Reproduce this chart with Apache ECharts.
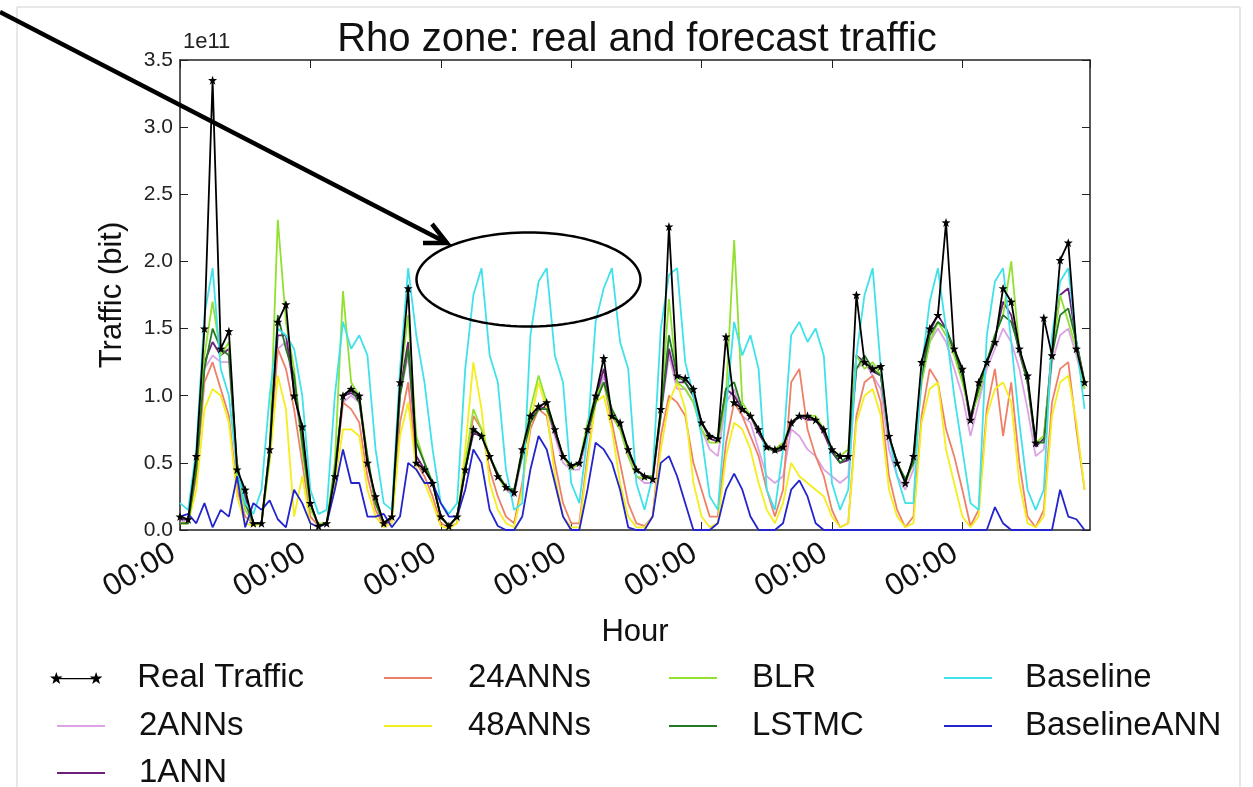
<!DOCTYPE html>
<html>
<head>
<meta charset="utf-8">
<script src="https://cdn.jsdelivr.net/npm/echarts@6/dist/echarts.min.js"></script>
<style>
html,body{margin:0;padding:0;background:#fff;}
#chart{width:1253px;height:787px;}
</style>
</head>
<body>
<div id="chart"></div>
<script>
// hours since start (3-hour sampling)
const hours = [];
for (let h = 0; h <= 333; h += 3) hours.push(h);

const xTickLabel = '00:00';
const yTickLabels = ['0.0','0.5','1.0','1.5','2.0','2.5','3.0','3.5'];

// values in units of 1e11 bit
const realTraffic = [
 0.1,0.08,0.55,1.5,3.35,1.35,1.48,0.45,
 0.3,0.05,0.05,0.6,1.55,1.68,1.0,0.77,
 0.2,0.03,0.05,0.4,1.0,1.05,1.0,0.5,
 0.25,0.05,0.1,1.1,1.8,0.5,0.45,0.35,
 0.1,0.03,0.1,0.45,0.75,0.7,0.55,0.4,
 0.32,0.28,0.6,0.85,0.92,0.95,0.75,0.55,
 0.48,0.5,0.75,1.0,1.28,0.85,0.8,0.6,
 0.45,0.4,0.38,0.9,2.26,1.15,1.13,1.05,
 0.8,0.7,0.68,1.44,0.95,0.9,0.85,0.75,
 0.62,0.6,0.62,0.8,0.85,0.85,0.82,0.75,
 0.6,0.55,0.55,1.75,1.25,1.2,1.22,0.7,
 0.5,0.35,0.55,1.25,1.5,1.6,2.29,1.35,
 1.2,0.82,1.1,1.25,1.4,1.8,1.7,1.35,
 1.15,0.65,1.58,1.3,2.01,2.14,1.35,1.1
];
const twoANNs = [
 0.05,0.08,0.45,1.2,1.3,1.25,1.25,0.45,
 0.2,0.05,0.05,0.55,1.35,1.4,1.05,0.65,
 0.2,0.03,0.05,0.4,0.95,1.0,0.95,0.5,
 0.2,0.05,0.1,1.0,1.3,0.55,0.45,0.35,
 0.1,0.03,0.1,0.45,0.75,0.7,0.55,0.4,
 0.3,0.25,0.55,0.8,0.9,0.9,0.7,0.5,
 0.45,0.45,0.7,0.95,1.15,0.85,0.75,0.55,
 0.4,0.35,0.35,0.85,1.3,1.05,1.05,0.95,
 0.75,0.6,0.55,0.95,1.05,0.85,0.8,0.6,
 0.4,0.35,0.4,0.75,0.7,0.6,0.55,0.45,
 0.4,0.35,0.4,1.2,1.25,1.15,1.05,0.6,
 0.4,0.3,0.45,1.1,1.4,1.5,1.4,1.2,
 1.0,0.7,0.95,1.2,1.35,1.5,1.4,1.2,
 0.9,0.55,0.6,1.25,1.45,1.5,1.3,1.05
];
const oneANN = [
 0.08,0.08,0.5,1.25,1.4,1.3,1.35,0.45,
 0.25,0.05,0.05,0.6,1.45,1.45,1.05,0.7,
 0.2,0.03,0.05,0.42,1.0,1.02,0.98,0.5,
 0.22,0.05,0.1,1.05,1.4,0.55,0.45,0.35,
 0.1,0.03,0.1,0.45,0.72,0.7,0.55,0.4,
 0.32,0.28,0.58,0.82,0.9,0.92,0.72,0.55,
 0.47,0.5,0.72,0.98,1.2,0.85,0.78,0.58,
 0.45,0.4,0.38,0.88,1.35,1.1,1.1,1.0,
 0.8,0.68,0.66,1.05,1.0,0.9,0.85,0.72,
 0.62,0.58,0.6,0.78,0.85,0.82,0.82,0.72,
 0.58,0.5,0.52,1.3,1.25,1.18,1.15,0.7,
 0.5,0.36,0.52,1.2,1.48,1.6,1.5,1.32,
 1.15,0.8,1.05,1.25,1.42,1.7,1.6,1.32,
 1.1,0.62,0.68,1.35,1.75,1.8,1.4,1.1
];
const ann24 = [
 0.05,0.05,0.4,1.1,1.25,1.05,0.85,0.3,
 0.1,0.05,0.05,0.6,1.35,1.2,0.9,0.5,
 0.1,0.03,0.05,0.4,0.95,0.9,0.8,0.4,
 0.15,0.03,0.08,0.8,1.1,0.5,0.4,0.25,
 0.05,0.02,0.05,0.45,0.85,0.75,0.45,0.25,
 0.1,0.05,0.35,0.75,0.9,0.85,0.5,0.2,
 0.05,0.05,0.55,0.95,1.1,0.8,0.5,0.2,
 0.05,0.03,0.1,0.7,1.0,0.95,0.85,0.5,
 0.3,0.1,0.1,0.65,0.95,0.85,0.7,0.55,
 0.3,0.1,0.3,1.1,1.2,0.75,0.55,0.4,
 0.15,0.02,0.05,0.85,1.1,1.15,0.95,0.4,
 0.15,0.02,0.1,0.85,1.2,1.1,0.75,0.55,
 0.3,0.03,0.15,0.9,1.2,0.7,1.1,0.5,
 0.1,0.02,0.15,0.95,1.2,1.25,0.75,0.3
];
const ann48 = [
 0.05,0.05,0.3,0.9,1.05,1.0,0.8,0.25,
 0.05,0.03,0.05,0.5,1.15,0.9,0.1,0.4,
 0.05,0.02,0.05,0.35,0.75,0.75,0.7,0.3,
 0.1,0.02,0.05,0.7,0.95,0.45,0.35,0.2,
 0.03,0.01,0.05,0.6,1.25,0.9,0.35,0.15,
 0.05,0.02,0.3,0.8,1.1,0.9,0.4,0.1,
 0.02,0.02,0.5,0.95,1.0,0.75,0.35,0.1,
 0.02,0.02,0.1,0.6,0.95,1.1,0.9,0.35,
 0.1,0.02,0.05,0.55,0.8,0.75,0.6,0.35,
 0.15,0.05,0.2,0.5,0.4,0.35,0.3,0.25,
 0.1,0.02,0.05,0.8,1.0,1.05,0.85,0.3,
 0.1,0.02,0.05,0.8,1.05,1.1,0.6,0.35,
 0.1,0.02,0.1,0.85,1.05,1.1,0.95,0.35,
 0.05,0.02,0.1,0.85,1.1,1.15,0.8,0.3
];
const blr = [
 0.05,0.05,0.5,1.3,1.7,1.3,1.4,0.4,
 0.15,0.05,0.05,0.6,2.31,1.55,1.2,0.6,
 0.15,0.05,0.05,0.5,1.78,1.1,1.0,0.55,
 0.2,0.05,0.1,1.1,1.6,0.7,0.5,0.35,
 0.1,0.02,0.1,0.5,0.9,0.75,0.55,0.4,
 0.3,0.3,0.6,0.9,1.15,0.95,0.75,0.55,
 0.45,0.5,0.8,1.0,1.1,0.85,0.75,0.55,
 0.4,0.38,0.4,0.9,1.72,1.1,1.05,0.95,
 0.75,0.65,0.65,1.0,2.16,0.95,0.85,0.75,
 0.62,0.6,0.65,0.8,0.85,0.85,0.85,0.75,
 0.6,0.55,0.6,1.3,1.2,1.25,1.15,0.7,
 0.5,0.35,0.5,1.1,1.4,1.55,1.45,1.3,
 1.1,0.85,1.0,1.25,1.45,1.6,2.0,1.35,
 1.1,0.65,0.7,1.3,1.75,1.55,1.35,1.05
];
const lstmc = [
 0.05,0.05,0.45,1.2,1.5,1.35,1.3,0.5,
 0.2,0.05,0.05,0.55,1.6,1.35,1.15,0.65,
 0.2,0.03,0.05,0.45,1.0,1.05,0.95,0.55,
 0.2,0.05,0.1,1.0,1.35,0.65,0.5,0.35,
 0.1,0.03,0.1,0.45,0.75,0.7,0.55,0.42,
 0.32,0.3,0.55,0.8,0.9,0.9,0.75,0.55,
 0.48,0.5,0.72,0.95,1.1,0.9,0.78,0.6,
 0.45,0.4,0.4,0.85,1.45,1.15,1.1,1.0,
 0.8,0.7,0.68,1.05,1.1,0.9,0.85,0.75,
 0.62,0.58,0.62,0.8,0.85,0.85,0.82,0.75,
 0.6,0.5,0.55,1.2,1.3,1.2,1.15,0.7,
 0.5,0.38,0.5,1.15,1.45,1.55,1.5,1.35,
 1.15,0.85,1.05,1.25,1.45,1.6,1.55,1.35,
 1.1,0.65,0.65,1.3,1.6,1.65,1.4,1.1
];
const baseline = [
 0.2,0.15,0.6,1.6,1.95,1.2,1.0,0.45,
 0.2,0.12,0.3,1.0,1.5,1.45,1.35,1.0,
 0.3,0.12,0.15,1.0,1.55,1.35,1.45,1.3,
 0.6,0.2,0.15,1.2,1.95,1.45,1.1,0.6,
 0.2,0.12,0.2,1.2,1.75,1.95,1.3,1.1,
 0.45,0.15,0.2,1.45,1.85,1.95,1.3,1.1,
 0.35,0.2,0.7,1.55,1.8,1.95,1.4,1.2,
 0.35,0.15,0.4,1.5,1.9,1.95,1.25,1.0,
 0.7,0.25,0.15,0.9,1.55,1.3,1.45,1.2,
 0.3,0.15,0.6,1.45,1.55,1.4,1.5,1.3,
 0.35,0.15,0.3,1.3,1.75,1.95,1.2,0.7,
 0.4,0.2,0.2,1.2,1.7,1.95,1.5,1.0,
 0.6,0.2,0.15,1.45,1.85,1.95,1.4,0.8,
 0.3,0.15,0.3,1.45,1.85,1.95,1.4,0.9
];
const baselineANN = [
 0.1,0.12,0.05,0.2,0.02,0.15,0.1,0.4,
 0.02,0.2,0.15,0.22,0.08,0.02,0.3,0.2,
 0.05,0.02,0.05,0.3,0.6,0.35,0.35,0.1,
 0.1,0.12,0.02,0.1,0.5,0.45,0.35,0.35,
 0.2,0.1,0.1,0.3,0.6,0.5,0.15,0.03,
 0.0,0.0,0.1,0.45,0.7,0.6,0.35,0.1,
 0.0,0.0,0.3,0.65,0.6,0.5,0.3,0.02,
 0.0,0.0,0.1,0.5,0.55,0.4,0.2,0.0,
 0.0,0.0,0.05,0.3,0.42,0.3,0.1,0.0,
 0.0,0.0,0.05,0.3,0.37,0.25,0.05,0.0,
 0.0,0.0,0.0,0.0,0.0,0.0,0.0,0.0,
 0.0,0.0,0.0,0.0,0.0,0.0,0.0,0.0,
 0.0,0.0,0.0,0.0,0.17,0.05,0.0,0.0,
 0.0,0.0,0.0,0.0,0.3,0.1,0.08,0.0
];

const FONT = '"Liberation Sans", Arial, sans-serif';
const STAR = 'path://M9,1 L11.12,7.09 L17.56,7.22 L12.42,11.11 L14.29,17.28 L9,13.6 L3.71,17.28 L5.58,11.11 L0.44,7.22 L6.88,7.09 Z';
const STAR_LEGEND = 'path://M9,1 L11.12,7.09 L17.56,7.22 L12.42,11.11 L14.29,17.28 L9,13.6 L3.71,17.28 L5.58,11.11 L0.44,7.22 L6.88,7.09 Z ' +
  'M63,1 L65.12,7.09 L71.56,7.22 L66.42,11.11 L68.29,17.28 L63,13.6 L57.71,17.28 L59.58,11.11 L54.44,7.22 L60.88,7.09 Z ' +
  'M9,9.2 L63,9.2 L63,10.8 L9,10.8 Z';

function pairs(vals){ return hours.map((h,i)=>[h, vals[i]]); }

const seriesDefs = [
  {name:'2ANNs', data: twoANNs, color:'#dba3e3'},
  {name:'1ANN', data: oneANN, color:'#6e1f7c'},
  {name:'24ANNs', data: ann24, color:'#ee8068'},
  {name:'48ANNs', data: ann48, color:'#f4ee1c'},
  {name:'BLR', data: blr, color:'#92e030'},
  {name:'LSTMC', data: lstmc, color:'#237a23'},
  {name:'Baseline', data: baseline, color:'#3fe2ea'},
  {name:'BaselineANN', data: baselineANN, color:'#2424cc'}
];

const series = seriesDefs.map(d => ({
  name: d.name, type:'line', data: pairs(d.data), showSymbol:false,
  lineStyle:{color:d.color, width:1.8}, itemStyle:{color:d.color},
  z: 2, silent:true
}));
series.push({
  name:'Real Traffic', type:'line', data: pairs(realTraffic),
  symbol: STAR, symbolSize: 9, showAllSymbol:true,
  lineStyle:{color:'#000', width:1.8}, itemStyle:{color:'#000'},
  z: 3, silent:true
});

function legendItem(name, left, rowY, textPad, isReal){
  return {
    data:[name], left:left, top:rowY-18, padding:0,
    itemWidth: isReal ? 60 : 48, itemHeight: isReal ? 12 : 2,
    icon: isReal ? STAR_LEGEND : 'rect',
    textStyle:{fontSize:33, fontFamily:FONT, color:'#111', lineHeight:36, padding:[0,0,0,textPad]}
  };
}
const rowY = [678, 726, 773];
const legends = [
  legendItem('Real Traffic', 50, rowY[0], 26, true),
  legendItem('2ANNs', 57, rowY[1], 29),
  legendItem('1ANN', 57, rowY[2], 29),
  legendItem('24ANNs', 384, rowY[0], 31),
  legendItem('48ANNs', 384, rowY[1], 31),
  legendItem('BLR', 669, rowY[0], 30),
  legendItem('LSTMC', 669, rowY[1], 30),
  legendItem('Baseline', 944, rowY[0], 28),
  legendItem('BaselineANN', 944, rowY[1], 28)
];

// annotation ellipse outline
const ellipsePts = [];
for (let k = 0; k < 120; k++) {
  const t = k / 120 * Math.PI * 2;
  ellipsePts.push([528.5 + 112 * Math.cos(t), 279.5 + 47 * Math.sin(t)]);
}

const axisLineStyle = {color:'#222', width:1.5};
const option = {
  animation:false,
  backgroundColor:'#ffffff',
  title:{
    text:'Rho zone: real and forecast traffic', left:632, textAlign:'center', top:15,
    textStyle:{fontSize:40, fontWeight:'normal', color:'#111', fontFamily:FONT}
  },
  legend: legends,
  grid:{left:180, right:163, top:60, bottom:257},
  xAxis:[
    {type:'value', min:0, max:335, interval:48, position:'bottom',
     axisLine:{show:true, onZero:false, lineStyle:axisLineStyle},
     axisTick:{show:true, inside:true, length:8, lineStyle:{color:'#222'}},
     axisLabel:{show:true, rotate:30, formatter:()=>xTickLabel, fontSize:31, color:'#111', margin:17,
                padding:[0,8,0,0], fontFamily:FONT, showMaxLabel:false},
     splitLine:{show:false},
     name:'Hour', nameLocation:'middle', nameGap:87,
     nameTextStyle:{fontSize:31, color:'#111', fontFamily:FONT, verticalAlign:'top'}},
    {type:'value', min:0, max:335, interval:48, position:'top',
     axisLine:{show:true, onZero:false, lineStyle:axisLineStyle},
     axisTick:{show:true, inside:true, length:8, lineStyle:{color:'#222'}},
     axisLabel:{show:false}, splitLine:{show:false}}
  ],
  yAxis:[
    {type:'value', min:0, max:3.5, interval:0.5, position:'left',
     axisLine:{show:true, onZero:false, lineStyle:axisLineStyle},
     axisTick:{show:true, inside:true, length:8, lineStyle:{color:'#222'}},
     axisLabel:{formatter:(v)=>yTickLabels[Math.round(v*2)], fontSize:21, color:'#222', margin:7, fontFamily:FONT},
     splitLine:{show:false},
     name:'Traffic (bit)', nameLocation:'middle', nameGap:52,
     nameTextStyle:{fontSize:31, color:'#111', fontFamily:FONT}},
    {type:'value', min:0, max:3.5, interval:0.5, position:'right',
     axisLine:{show:true, onZero:false, lineStyle:axisLineStyle},
     axisTick:{show:true, inside:true, length:8, lineStyle:{color:'#222'}},
     axisLabel:{show:false}, splitLine:{show:false}}
  ],
  series: series,
  graphic:[
    {type:'rect', silent:true, z:0, shape:{x:17, y:7, width:1223, height:800},
     style:{fill:'none', stroke:'#cfcfcf', lineWidth:1}},
    {type:'text', silent:true, left:183, top:31,
     style:{text:'1e11', fontSize:22, fill:'#222', fontFamily:FONT}},
    {type:'line', silent:true, z:100, shape:{x1:0, y1:12, x2:445, y2:242},
     style:{stroke:'#000', lineWidth:4.5}},
    {type:'polyline', silent:true, z:100, shape:{points:[[432,224],[447,243],[423,243]]},
     style:{stroke:'#000', lineWidth:4.5, fill:'none'}},
    {type:'polygon', silent:true, z:100, shape:{points:ellipsePts},
     style:{stroke:'#000', lineWidth:2.5, fill:'none'}}
  ]
};

const chart = echarts.init(document.getElementById('chart'), null, {renderer:'canvas'});
chart.setOption(option);
</script>
</body>
</html>
